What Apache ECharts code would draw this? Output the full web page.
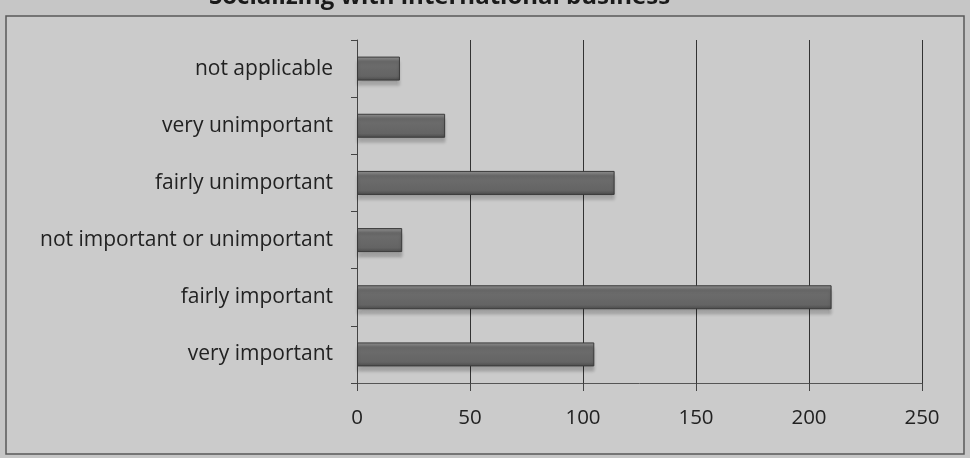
<!DOCTYPE html>
<html><head><meta charset="utf-8">
<script src="https://cdn.jsdelivr.net/npm/echarts@6/dist/echarts.min.js"></script>
<style>html,body{margin:0;padding:0;background:#c6c6c6;}#c{width:970px;height:458px;}</style>
</head><body><div id="c"></div>
<script>
const titleText = "Socializing with international business";
const categories = ["very important","fairly important","not important or unimportant","fairly unimportant","very unimportant","not applicable"];
const values = [105, 210, 20, 114, 39, 19];
const xTicks = [0, 50, 100, 150, 200, 250];

const chart = echarts.init(document.getElementById('c'));
chart.setOption({
  backgroundColor: '#c6c6c6',
  animation: false,
  title: {
    text: titleText, left: 204, top: -20,
    textStyle: {fontFamily: 'Open Sans', fontWeight: 'bold', fontSize: 24, color: '#1a1a1a'}
  },
  graphic: [{
    type: 'rect', shape: {x: 6, y: 16, width: 958, height: 438},
    style: {fill: '#cbcbcb', stroke: '#5a5a5a', lineWidth: 1.5}, z: -10
  }],
  grid: {left: 357, right: 48, top: 40, bottom: 75, containLabel: false},
  xAxis: {
    type: 'value', min: 0, max: 250, interval: 50,
    axisLine: {show: true, lineStyle: {color: '#555', width: 1}},
    axisTick: {show: true, length: 8, lineStyle: {color: '#444'}},
    splitLine: {show: true, lineStyle: {color: '#333', width: 1}},
    axisLabel: {margin: 25, fontFamily: 'Open Sans', fontSize: 20.5, color: '#222',
      formatter: v => xTicks.includes(v) ? String(v) : ''}
  },
  yAxis: {
    type: 'category', data: categories,
    axisLine: {show: true, lineStyle: {color: '#444', width: 1}},
    axisTick: {show: true, length: 6, lineStyle: {color: '#444'}},
    axisLabel: {margin: 24, fontFamily: 'Open Sans', fontSize: 21, color: '#222'}
  },
  series: [{
    type: 'bar', data: values, barWidth: 24,
    itemStyle: {
      color: {type: 'linear', x: 0, y: 0, x2: 0, y2: 1, colorStops: [
        {offset: 0, color: '#8e8e8e'}, {offset: 0.18, color: '#6e6e6e'},
        {offset: 0.82, color: '#646464'}, {offset: 1, color: '#4a4a4a'}]},
      borderColor: '#3a3a3a', borderWidth: 1,
      shadowColor: 'rgba(0,0,0,0.22)', shadowOffsetY: 5, shadowBlur: 3
    }
  }]
});
</script></body></html>
